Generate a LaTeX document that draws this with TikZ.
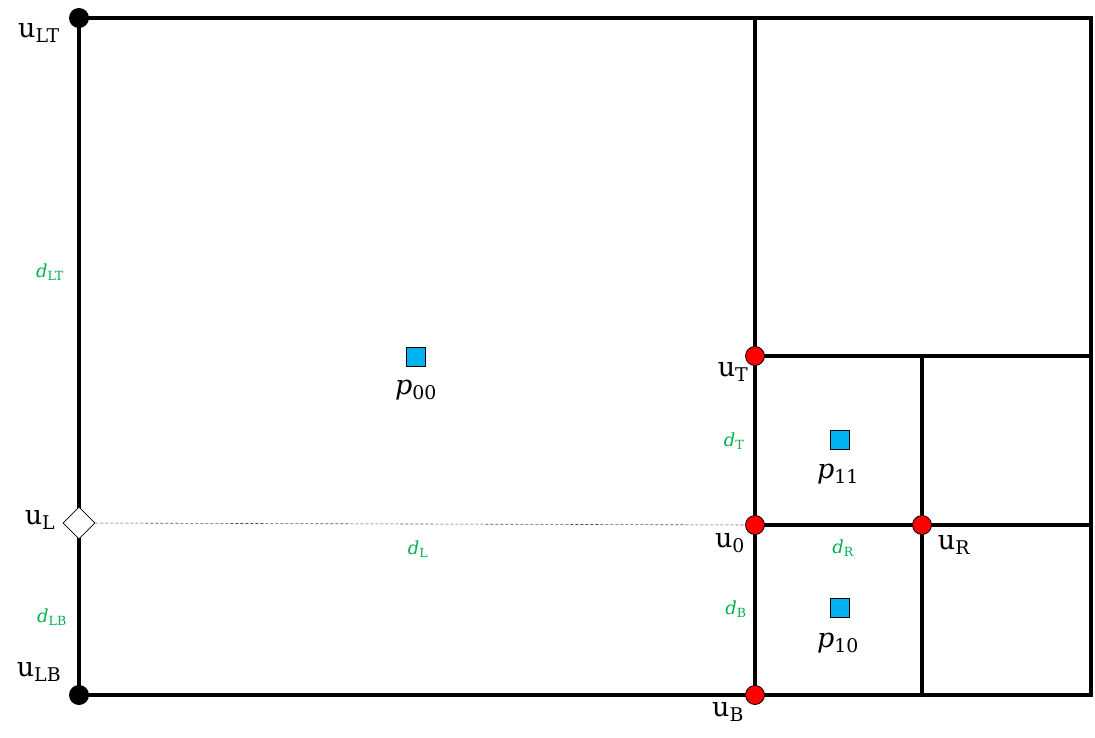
\RequirePackage{fix-cm}
\documentclass[tikz,border=0pt]{standalone}
\usepackage{fontspec}
\setmainfont{DejaVu Serif}
\usetikzlibrary{shapes.geometric}
\definecolor{dgreen}{RGB}{0,176,80}
\definecolor{pblue}{RGB}{0,176,240}
\newcommand{\ulab}[2]{u\textsubscript{#2}}
\newcommand{\plab}[1]{\textit{p}\textsubscript{#1}}
\newcommand{\dlab}[1]{\textit{d}\textsubscript{#1}}
\begin{document}
\begin{tikzpicture}[x=1pt,y=-1pt,
  frame/.style={line width=4pt},
  bdot/.style={circle,fill=black,inner sep=0,minimum size=20pt},
  rdot/.style={circle,fill=red,draw=black,line width=0.8pt,inner sep=0,minimum size=19pt},
  pt/.style={rectangle,fill=pblue,draw=black,line width=0.8pt,inner sep=0,minimum size=19pt},
  lab/.style={font=\fontsize{27}{30}\selectfont},
  dl/.style={text=dgreen,font=\fontsize{18}{20}\selectfont}]
\useasboundingbox (0,0) rectangle (1095,738);
\coordinate (TL) at (79,18); \coordinate (BR) at (1091,695);
\draw[frame] (TL) rectangle (BR);
\coordinate (a1) at (755,18); \coordinate (a2) at (755,695);
\draw[frame] (a1) -- (a2);
\coordinate (b1) at (755,356); \coordinate (b2) at (1091,356);
\draw[frame] (b1) -- (b2);
\coordinate (c1) at (922,356); \coordinate (c2) at (922,695);
\draw[frame] (c1) -- (c2);
\coordinate (e1) at (755,525); \coordinate (e2) at (1091,525);
\draw[frame] (e1) -- (e2);
\node[bdot] (uLT) at (79,18) {};
\node[bdot] (uLB) at (79,695) {};
\node[diamond,draw=black,fill=white,line width=0.8pt,inner sep=0,minimum size=32pt] (uL) at (79,523) {};
\node[rdot] (uT) at (755,356) {};
\node[rdot] (u0) at (755,525) {};
\node[rdot] (uR) at (922,525) {};
\node[rdot] (uB) at (755,695) {};
\draw[dashed,line width=0.6pt,black!70,dash pattern=on 3pt off 2pt] (uL) -- (u0);
\node[pt] (p00) at (416,357) {};
\node[pt] (p11) at (840,440) {};
\node[pt] (p10) at (840,608) {};
\node[lab] (lp00) at (416,390) {\plab{00}};
\node[lab] (lp11) at (838,474) {\plab{11}};
\node[lab] (lp10) at (838,643) {\plab{10}};
\node[lab] (luLT) at (39,33) {\ulab{}{LT}};
\node[lab] (luL) at (40,520) {\ulab{}{L}};
\node[lab] (luLB) at (39,672) {\ulab{}{LB}};
\node[lab] (luT) at (733,372) {\ulab{}{T}};
\node[lab] (lu0) at (730,543) {\ulab{}{0}};
\node[lab] (luR) at (954,545) {\ulab{}{R}};
\node[lab] (luB) at (728,712) {\ulab{}{B}};
\node[dl] (dLT) at (50,272) {\dlab{LT}};
\node[dl] (dT) at (734,441) {\dlab{T}};
\node[dl] (dL) at (418,549) {\dlab{L}};
\node[dl] (dR) at (843,548) {\dlab{R}};
\node[dl] (dB) at (736,609) {\dlab{B}};
\node[dl] (dLB) at (52,617) {\dlab{LB}};
\end{tikzpicture}
\end{document}
